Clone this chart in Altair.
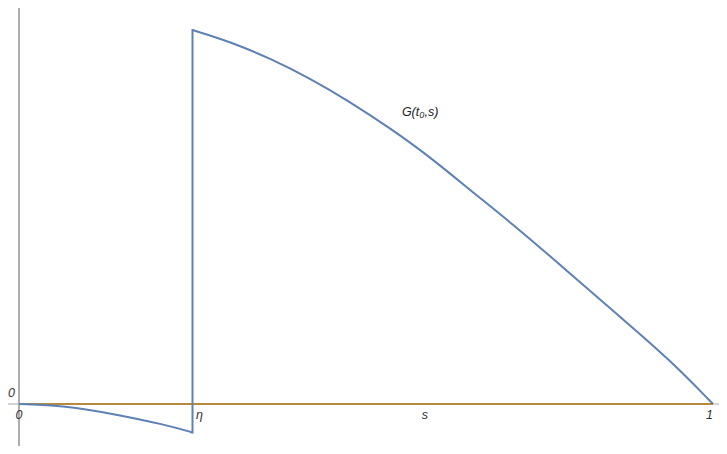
import altair as alt
import pandas as pd

eta = 0.25
s_left = [0, 0.066, 0.138, 0.210, 0.25]
g_left = [0, -0.004, -0.027, -0.055, -0.076]
s_right = [0.25, 0.304, 0.362, 0.419, 0.477, 0.535, 0.592, 0.650, 0.722, 0.794, 0.866, 0.938, 1.0]
g_right = [1.0, 0.969, 0.924, 0.871, 0.808, 0.737, 0.661, 0.572, 0.465, 0.349, 0.233, 0.118, 0.0]

zero_s = [0, 1]
zero_g = [0, 0]

x_tick_pos = [0.0, 0.26, 0.585, 0.995]
x_tick_txt = ["0", "η", "s", "1"]

curve_label = "G(t₀,s)"
curve_label_pos = (0.578, 0.781)

x_dom = [-0.01585, 1.00865]
y_dom = [-0.1123, 1.0588]

xs = alt.Scale(domain=x_dom, nice=False, zero=False)
ys = alt.Scale(domain=y_dom, nice=False, zero=False)

curve = pd.DataFrame({
    "s": s_left + s_right,
    "g": g_left + g_right,
    "piece": ["a"] * len(s_left) + ["b"] * len(s_right),
})
jump_df = pd.DataFrame({"s": [eta], "g": [g_left[-1]], "g2": [g_right[0]]})
zero_df = pd.DataFrame({"s": zero_s, "g": zero_g})
ticks_df = pd.DataFrame({"s": x_tick_pos, "g": [0] * len(x_tick_pos), "t": x_tick_txt})
xaxis_df = pd.DataFrame({"s": [x_dom[0]], "s2": [x_dom[1]], "g": [0]})
yaxis_df = pd.DataFrame({"s": [0], "g": [y_dom[0]], "g2": [y_dom[1]]})
ylab_df = pd.DataFrame({"s": [0], "g": [0], "t": ["0"]})
glab_df = pd.DataFrame({"s": [curve_label_pos[0]], "g": [curve_label_pos[1]], "t": [curve_label]})


def X():
    return alt.X("s:Q", scale=xs, axis=None)


def Y():
    return alt.Y("g:Q", scale=ys, axis=None)


BLUE = "#5E81B5"

y_axis = alt.Chart(yaxis_df).mark_rule(color="#777777", strokeWidth=1.2).encode(
    x=X(), y=Y(), y2="g2:Q")
x_axis = alt.Chart(xaxis_df).mark_rule(color="#aaaaaa", strokeWidth=1.2).encode(
    x=X(), x2="s2:Q", y=Y())

zero_line = alt.Chart(zero_df).mark_line(color="#B5893E", strokeWidth=2.2).encode(x=X(), y=Y())
g_line = alt.Chart(curve).mark_line(color=BLUE, strokeWidth=2, interpolate="basis").encode(
    x=X(), y=Y(), detail="piece:N")
jump = alt.Chart(jump_df).mark_rule(color=BLUE, strokeWidth=2, strokeCap="square").encode(
    x=X(), y=Y(), y2="g2:Q")

x_labels = alt.Chart(ticks_df).mark_text(
    font="Liberation Sans", fontStyle="italic", fontSize=12.5, color="#333333",
    baseline="middle", align="center", dy=11,
).encode(x=X(), y=Y(), text="t:N")

y_label = alt.Chart(ylab_df).mark_text(
    font="Liberation Sans", fontStyle="italic", fontSize=12.5, color="#333333",
    baseline="middle", align="right", dx=-4, dy=-11,
).encode(x=X(), y=Y(), text="t:N")

g_label = alt.Chart(glab_df).mark_text(
    font="Liberation Sans", fontStyle="italic", fontSize=12.5, color="#222222",
    baseline="middle", align="center",
).encode(x=X(), y=Y(), text="t:N")

chart = alt.layer(y_axis, x_axis, zero_line, g_line, jump, x_labels, y_label, g_label).properties(
    width=711, height=438,
    autosize=alt.AutoSizeParams(type="none"),
    padding=0,
).configure_view(stroke=None)

chart.save("out.html", embed_options={"renderer": "svg", "actions": False})
